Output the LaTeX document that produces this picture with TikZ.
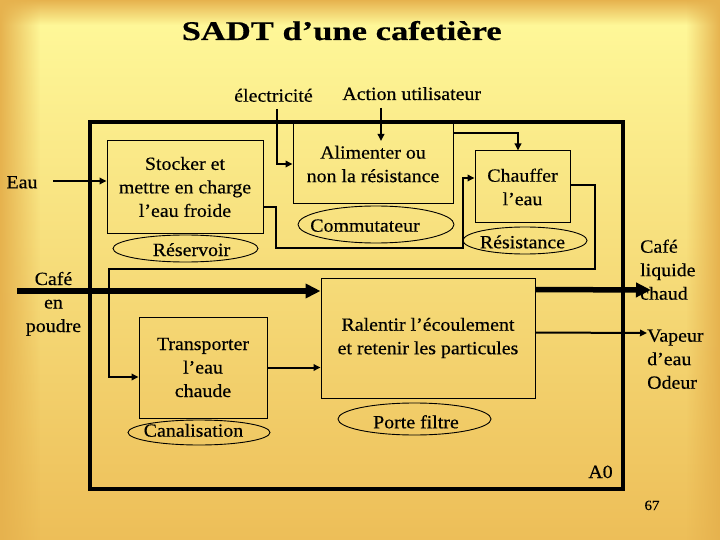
\documentclass[tikz,border=0pt]{standalone}
\usepackage{fontspec}
\setmainfont{Liberation Serif}[FakeStretch=1.07, FakeBold=0.4]
\newfontfamily\titlefont{Liberation Serif}[FakeStretch=1.28, FakeBold=0.5]
\usetikzlibrary{arrows.meta,shapes.geometric,fadings}
\definecolor{bgtop}{RGB}{255,250,155}
\definecolor{bgmid}{RGB}{251,230,122}
\definecolor{bgbot}{RGB}{237,190,88}
\definecolor{edgeor}{RGB}{230,178,78}
\newcommand{\mylines}[2]{\begin{tabular}[t]{@{}#1@{}}#2\end{tabular}}
\begin{document}
\begin{tikzpicture}[x=1pt,y=-1pt,
  every node/.style={font=\fontsize{18.6}{23.5}\selectfont, inner sep=0pt},
  box/.style={draw, line width=1pt, align=center},
  oval/.style={draw, ellipse, line width=0.9pt},
  lbl/.style={anchor=base},
  conn/.style={line width=2pt, -{Triangle[length=7pt,width=6.5pt]}},
  bigarrow/.style={line width=5.5pt, -{Triangle[length=15pt,width=14pt]}}]
% background
\useasboundingbox (0,0) rectangle (720,540);
\shade[top color=bgtop, middle color=bgmid, bottom color=bgbot] (0,0) rectangle (720,540);
\shade[top color=edgeor, bottom color=bgtop] (0,0) rectangle (720,26);
\fill[edgeor, path fading=east] (0,0) rectangle (40,540);
\fill[edgeor, path fading=west] (686,0) rectangle (720,540);
% title
\node[lbl, font=\titlefont\bfseries\fontsize{27}{32}\selectfont] (title) at (341.7,40) {SADT d’une cafetière};
% frame A0
\node[draw, line width=4.5pt, minimum width=533pt, minimum height=367pt] (frame) at (356.5,305.5) {};
% activity boxes
\node[box, minimum width=156pt, minimum height=92pt] (stock) at (185,187) {Stocker et\\mettre en charge\\l’eau froide};
\node[box, minimum width=160pt, minimum height=80pt] (alim) at (373,164) {Alimenter ou\\non la résistance};
\node[box, minimum width=95pt, minimum height=72pt] (chauf) at (522.5,187) {Chauffer\\l’eau};
\node[box, minimum width=128pt, minimum height=101pt] (transp) at (203,367.5) {Transporter\\l’eau\\chaude};
\node[box, minimum width=214pt, minimum height=120pt] (ralent) at (428,338) {Ralentir l’écoulement\\et retenir les particules};
% mechanisms
\node[oval, minimum width=145pt, minimum height=27pt] (reserv) at (185.5,248.5) {};
\node[lbl] (reservT) at (191.5,256) {Réservoir};
\node[oval, minimum width=156pt, minimum height=37pt] (commut) at (376,224.5) {};
\node[lbl] (commutT) at (365,231.7) {Commutateur};
\node[oval, minimum width=124pt, minimum height=27pt] (resist) at (525,240.5) {};
\node[lbl] (resistT) at (522.5,248.3) {Résistance};
\node[oval, minimum width=142pt, minimum height=25pt] (canal) at (199,432.5) {};
\node[lbl] (canalT) at (193.5,436.7) {Canalisation};
\node[oval, minimum width=153pt, minimum height=32pt] (porte) at (414.5,419) {};
\node[lbl] (porteT) at (416,428.3) {Porte filtre};
% external labels
\node[lbl] (eau) at (22,188.3) {Eau};
\node[lbl] (elec) at (273.5,101.7) {électricité};
\node[lbl] (action) at (411.7,100) {Action utilisateur};
\node[lbl] (cafe) at (53.5,285) {\mylines{c}{Café\\en\\poudre}};
\node[lbl, anchor=base west] (liquide) at (640,252.7) {\mylines{l}{Café\\liquide\\chaud}};
\node[lbl, anchor=base west] (vapeur) at (647,341.7) {\mylines{l}{Vapeur\\d’eau\\Odeur}};
\node[lbl] (a0) at (600.5,478) {A0};
\node[lbl, font=\fontsize{14}{16}\selectfont] (num) at (652,510) {67};
% connectors
\coordinate (eauS) at (53,181);
\draw[conn] (eauS) -- (eauS -| stock.west);
\coordinate (elecS) at (277,109);
\coordinate (elecB) at (277,164);
\draw[conn] (elecS) -- (elecB) -- (elecB -| alim.west);
\coordinate (actS) at (381,108);
\coordinate (actE) at (381,141);
\draw[conn] (actS) -- (actE);
\draw[conn] ([yshift=-10pt]alim.north east) -| ([xshift=-4.5pt]chauf.north);
\draw[conn] ([yshift=-20pt]stock.east) -| (276,248) -| (463,178) -- ([yshift=9pt]chauf.west);
\draw[conn] ([yshift=2pt]chauf.east) -| (595,269) -| (109,377) -- ([yshift=-9.5pt]transp.west);
\draw[conn] (transp.east) -- (transp.east -| ralent.west);
\coordinate (cafS) at (17,291);
\draw[bigarrow] (cafS) -- (cafS -| ralent.west);
\coordinate (liqE) at (651,290);
\draw[bigarrow] ([yshift=-12pt]ralent.north east) -- (liqE);
\coordinate (vapE) at (647,333);
\draw[conn] ([yshift=-55pt]ralent.north east) -- (vapE);
\end{tikzpicture}
\end{document}
